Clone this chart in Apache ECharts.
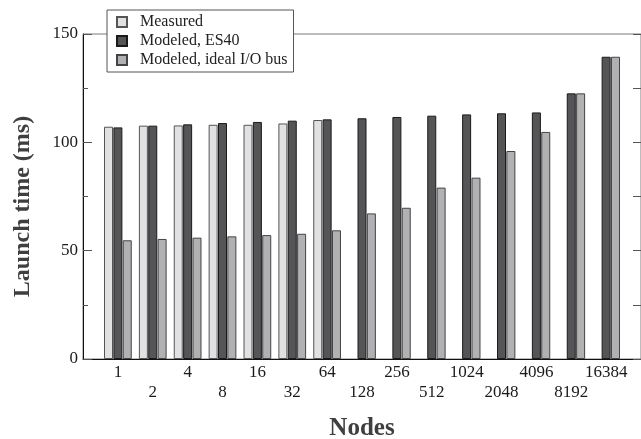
<!DOCTYPE html>
<html>
<head>
<meta charset="utf-8">
<script src="https://cdn.jsdelivr.net/npm/echarts@6/dist/echarts.min.js"></script>
<style>
html,body{margin:0;padding:0;background:#fff;}
#chart{width:641px;height:439px;}
</style>
</head>
<body>
<div id="chart"></div>
<script>
const nodes = ['1','2','4','8','16','32','64','128','256','512','1024','2048','4096','8192','16384'];
const measured = [107.2, 107.7, 107.8, 108.1, 108.1, 108.7, 110.3, null, null, null, null, null, null, null, null];
const modeledES40 = [106.9, 107.7, 108.3, 108.9, 109.4, 110.0, 110.6, 111.1, 111.7, 112.3, 112.9, 113.4, 113.8, 122.6, 139.5];
const modeledIdeal = [54.8, 55.4, 56.0, 56.6, 57.2, 57.8, 59.4, 67.2, 69.8, 79.1, 83.7, 96.0, 104.8, 122.6, 139.5];
const yTicks = [0, 50, 100, 150];

const FONT = "'Liberation Serif', 'Times New Roman', 'DejaVu Serif', serif";
const pad = arr => ['-'].concat(arr.map(v => v == null ? '-' : v)).concat(['-']);
const cats = [''].concat(nodes).concat(['']);

const chart = echarts.init(document.getElementById('chart'), null, {renderer: 'canvas'});
const barBase = {type: 'bar', barWidth: 9, barGap: '4%', xAxisIndex: 0, yAxisIndex: 0};
chart.setOption({
  animation: false,
  backgroundColor: '#fff',
  grid: {left: 83, right: 0, top: 34, bottom: 80, containLabel: false, outerBoundsMode: 'none',
    show: true, borderColor: '#7a7a7a', borderWidth: 1, backgroundColor: 'transparent'},
  legend: {
    orient: 'vertical', left: 107, top: 10, z: 10,
    backgroundColor: '#fff', borderColor: '#555', borderWidth: 1,
    padding: [4, 6, 4, 9], itemGap: 3, itemWidth: 10, itemHeight: 10,
    icon: 'rect',
    textStyle: {fontFamily: FONT, fontSize: 16, color: '#222', lineHeight: 15, padding: [0, 0, 0, 8]},
    data: ['Measured', 'Modeled, ES40', 'Modeled, ideal I/O bus']
  },
  xAxis: [{
    type: 'category', data: cats, boundaryGap: false,
    name: 'Nodes', nameLocation: 'middle', nameGap: 57,
    nameTextStyle: {fontFamily: FONT, fontSize: 25, fontWeight: 'bold', color: '#3f3f3f'},
    axisLine: {lineStyle: {color: '#111', width: 1}},
    axisTick: {inside: true, length: 5, interval: (i) => i > 0 && i < cats.length - 1, lineStyle: {color: '#222'}},
    axisLabel: {
      interval: 0, margin: 4, fontFamily: FONT, fontSize: 17, color: '#1a1a1a', lineHeight: 20,
      formatter: (v, i) => (i % 2 === 0 ? '\n' + v : v)
    },
    splitLine: {show: false}
  }],
  yAxis: [{
    type: 'value', min: 0, max: 150, interval: 50,
    name: 'Launch time (ms)', nameLocation: 'middle', nameGap: 48,
    nameTextStyle: {fontFamily: FONT, fontSize: 24, fontWeight: 'bold', color: '#3f3f3f', padding: [0, 20, 0, 0]},
    axisLine: {show: true, lineStyle: {color: '#111', width: 1}},
    axisTick: {show: true, inside: true, length: 9, lineStyle: {color: '#555'}},
    minorTick: {show: true, splitNumber: 2, length: 5, lineStyle: {color: '#555'}},
    axisLabel: {fontFamily: FONT, fontSize: 17, color: '#1a1a1a', margin: 5,
      formatter: v => (yTicks.indexOf(v) >= 0 ? String(v) : '')},
    splitLine: {show: false}
  }, {
    type: 'value', min: 0, max: 150, interval: 25, position: 'right',
    axisLine: {show: false},
    axisTick: {show: true, inside: true, length: 8, lineStyle: {color: '#555'}},
    axisLabel: {show: false},
    splitLine: {show: false}
  }],
  series: [
    Object.assign({}, barBase, {name: 'Measured', data: pad(measured),
      itemStyle: {color: '#e1e1e3', borderColor: '#555', borderWidth: 1}}),
    Object.assign({}, barBase, {name: 'Modeled, ES40', data: pad(modeledES40),
      itemStyle: {color: '#555558', borderColor: '#1a1a1a', borderWidth: 1}}),
    Object.assign({}, barBase, {name: 'Modeled, ideal I/O bus', data: pad(modeledIdeal),
      itemStyle: {color: '#b1b1b4', borderColor: '#444', borderWidth: 1}})
  ]
});
</script>
</body>
</html>
